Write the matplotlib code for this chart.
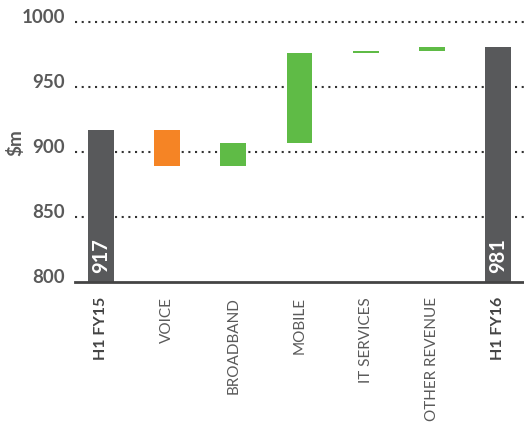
import matplotlib
matplotlib.use("Agg")
import matplotlib.pyplot as plt

categories = ["H1 FY15", "VOICE", "BROADBAND", "MOBILE", "IT SERVICES", "OTHER REVENUE", "H1 FY16"]
start_value = 917
deltas = [-28, 18, 69, 2, 3]
end_value = 981
yticks = [800, 850, 900, 950, 1000]

DARK = "#58595b"
ORANGE = "#f58425"
GREEN = "#5fbb46"
TXT = "#5a5a5a"

fig = plt.figure(figsize=(5.24, 4.27), dpi=100)
ax = fig.add_axes([75/524, 144/427, 1 - 75/524, (283 - 19.1)/427])

width = 0.39
ax.bar(0, start_value - 800, bottom=800, width=width, color=DARK, zorder=3)
ax.bar(len(categories) - 1, end_value - 800, bottom=800, width=width, color=DARK, zorder=3)
level = start_value
for i, d in enumerate(deltas, start=1):
    bottom = level + min(d, 0)
    ax.bar(i, abs(d), bottom=bottom, width=width, color=GREEN if d >= 0 else ORANGE, zorder=3)
    level += d

for x, v in [(0, start_value), (len(categories) - 1, end_value)]:
    ax.text(x, 808, str(v), rotation=90, ha="center", va="bottom", color="white",
            fontsize=14.5, fontweight="bold", family="Lato", zorder=4)

ax.set_xlim(-0.39, 6.39)
ax.set_ylim(800, 1003)
ax.set_yticks(yticks)
ax.set_yticklabels([str(t) for t in yticks], fontsize=13.5, color=TXT, family="Lato", fontweight="bold")
for lab in ax.get_yticklabels():
    lab.set_va("baseline")
for t in yticks[1:]:
    ax.axhline(t, color="#333333", lw=1.5, linestyle=(0, (1, 2.2)), zorder=1)

ax.set_xticks(range(len(categories)))
ax.set_xticklabels(categories, rotation=90, va="top", ha="center", fontsize=11, family="Lato", color=TXT)
for lab in ax.get_xticklabels():
    if lab.get_text().startswith("H1"):
        lab.set_fontweight("bold")
        lab.set_fontsize(11.5)
        lab.set_color("#444444")

ax.tick_params(axis="both", length=0)
ax.tick_params(axis="y", pad=7)
ax.tick_params(axis="x", pad=10)
for s in ["top", "right", "left"]:
    ax.spines[s].set_visible(False)
ax.spines["bottom"].set_color("#444444")
ax.spines["bottom"].set_linewidth(2)
ax.spines["bottom"].set_zorder(5)

fig.text(15/524, 1 - 143/427, "$m", rotation=90, ha="center", va="center",
         fontsize=13.5, fontweight="bold", color=TXT, family="Lato")

fig.savefig("out.png", dpi=100)
